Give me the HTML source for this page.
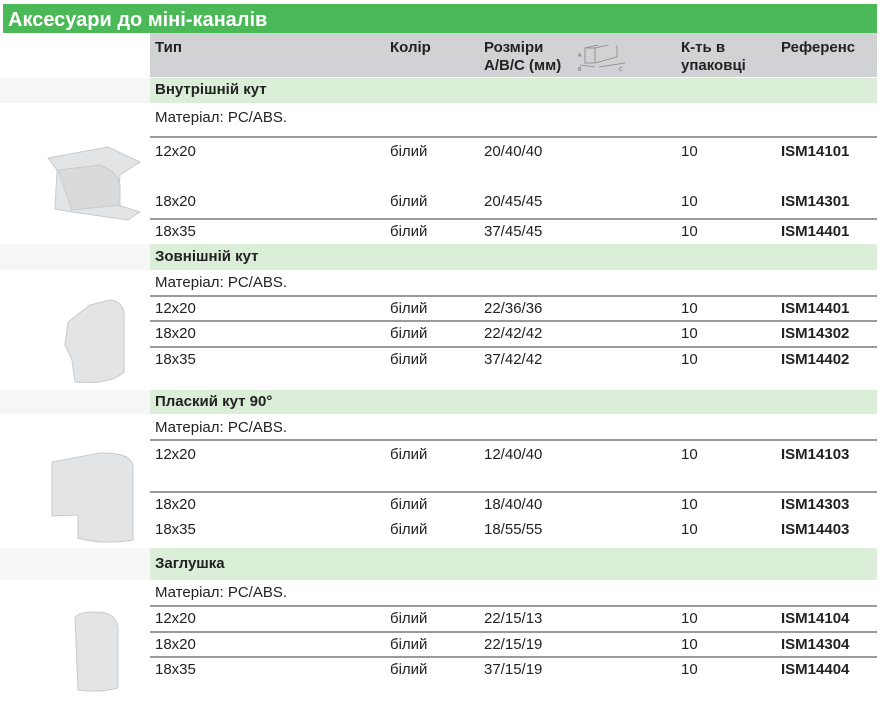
<!DOCTYPE html>
<html><head><meta charset="utf-8"><style>
*{margin:0;padding:0;box-sizing:border-box}
body{width:884px;height:712px;background:#fff;position:relative;overflow:hidden;font-family:"Liberation Sans",Arial,sans-serif;color:#222}
.a{position:absolute}
.t{position:absolute;font-size:15px;line-height:18px;white-space:nowrap}
.b{font-weight:bold}
.band{position:absolute;left:150px;width:727px;background:#dbeed8}
.lband{position:absolute;left:0;width:150px;background:#f6f6f6}
.line{position:absolute;left:150px;width:727px;height:2px;background:#9a9a9a}
</style></head><body>
<div class="a" style="left:3px;top:4px;width:874px;height:29px;background:#4bb957"></div>
<div class="t b" style="left:8px;top:8px;font-size:20px;line-height:24px;color:#fff">Аксесуари до міні-каналів</div>
<div class="a" style="left:150px;top:33px;width:727px;height:44px;background:#d1d2d4"></div>
<div class="t b" style="left:155px;top:39px">Тип</div>
<div class="t b" style="left:390px;top:39px">Колір</div>
<div class="t b" style="left:484px;top:39px;line-height:18px">Розміри<br>A/B/C (мм)</div>
<svg class="a" style="left:575px;top:45px" width="70" height="30"><g fill="none" stroke="#888" stroke-width="0.8"><rect x="10" y="3" width="10" height="15"/><path d="M20 3 L42 -2 L42 12 L20 18 M10 3 L32 -2 L42 -2 M5 20 L20 22 M24 22 L50 18"/></g><text x="3" y="12" font-size="5" fill="#666">A</text><text x="3" y="26" font-size="5" fill="#666">B</text><text x="44" y="26" font-size="5" fill="#666">C</text></svg>
<div class="t b" style="left:681px;top:39px">К-ть в<br>упаковці</div>
<div class="t b" style="left:781px;top:39px">Референс</div>

<!-- bands -->
<div class="band" style="top:78px;height:25px"></div><div class="lband" style="top:78px;height:25px"></div>
<div class="band" style="top:244px;height:26px"></div><div class="lband" style="top:244px;height:26px"></div>
<div class="band" style="top:390px;height:24px"></div><div class="lband" style="top:390px;height:24px"></div>
<div class="band" style="top:548px;height:32px"></div><div class="lband" style="top:548px;height:32px"></div>

<div class="t b" style="left:155px;top:81px">Внутрішній кут</div>
<div class="t" style="left:155px;top:109px">Матеріал: PC/ABS.</div>
<div class="line" style="top:136px"></div>
<div class="line" style="top:218px"></div>

<div class="t b" style="left:155px;top:248px">Зовнішній кут</div>
<div class="t" style="left:155px;top:274px">Матеріал: PC/ABS.</div>
<div class="line" style="top:295px"></div>
<div class="line" style="top:320px"></div>
<div class="line" style="top:346px"></div>

<div class="t b" style="left:155px;top:393px">Плаский кут 90°</div>
<div class="t" style="left:155px;top:419px">Матеріал: PC/ABS.</div>
<div class="line" style="top:439px"></div>
<div class="line" style="top:491px"></div>

<div class="t b" style="left:155px;top:555px">Заглушка</div>
<div class="t" style="left:155px;top:584px">Матеріал: PC/ABS.</div>
<div class="line" style="top:605px"></div>
<div class="line" style="top:631px"></div>
<div class="line" style="top:656px"></div>

<!-- rows -->
<div class="t" style="left:155px;top:143px">12x20</div><div class="t" style="left:390px;top:143px">білий</div><div class="t" style="left:484px;top:143px">20/40/40</div><div class="t" style="left:681px;top:143px">10</div><div class="t b" style="left:781px;top:143px">ISM14101</div>
<div class="t" style="left:155px;top:193px">18x20</div><div class="t" style="left:390px;top:193px">білий</div><div class="t" style="left:484px;top:193px">20/45/45</div><div class="t" style="left:681px;top:193px">10</div><div class="t b" style="left:781px;top:193px">ISM14301</div>
<div class="t" style="left:155px;top:223px">18x35</div><div class="t" style="left:390px;top:223px">білий</div><div class="t" style="left:484px;top:223px">37/45/45</div><div class="t" style="left:681px;top:223px">10</div><div class="t b" style="left:781px;top:223px">ISM14401</div>

<div class="t" style="left:155px;top:300px">12x20</div><div class="t" style="left:390px;top:300px">білий</div><div class="t" style="left:484px;top:300px">22/36/36</div><div class="t" style="left:681px;top:300px">10</div><div class="t b" style="left:781px;top:300px">ISM14401</div>
<div class="t" style="left:155px;top:325px">18x20</div><div class="t" style="left:390px;top:325px">білий</div><div class="t" style="left:484px;top:325px">22/42/42</div><div class="t" style="left:681px;top:325px">10</div><div class="t b" style="left:781px;top:325px">ISM14302</div>
<div class="t" style="left:155px;top:351px">18x35</div><div class="t" style="left:390px;top:351px">білий</div><div class="t" style="left:484px;top:351px">37/42/42</div><div class="t" style="left:681px;top:351px">10</div><div class="t b" style="left:781px;top:351px">ISM14402</div>

<div class="t" style="left:155px;top:446px">12x20</div><div class="t" style="left:390px;top:446px">білий</div><div class="t" style="left:484px;top:446px">12/40/40</div><div class="t" style="left:681px;top:446px">10</div><div class="t b" style="left:781px;top:446px">ISM14103</div>
<div class="t" style="left:155px;top:496px">18x20</div><div class="t" style="left:390px;top:496px">білий</div><div class="t" style="left:484px;top:496px">18/40/40</div><div class="t" style="left:681px;top:496px">10</div><div class="t b" style="left:781px;top:496px">ISM14303</div>
<div class="t" style="left:155px;top:521px">18x35</div><div class="t" style="left:390px;top:521px">білий</div><div class="t" style="left:484px;top:521px">18/55/55</div><div class="t" style="left:681px;top:521px">10</div><div class="t b" style="left:781px;top:521px">ISM14403</div>

<div class="t" style="left:155px;top:610px">12x20</div><div class="t" style="left:390px;top:610px">білий</div><div class="t" style="left:484px;top:610px">22/15/13</div><div class="t" style="left:681px;top:610px">10</div><div class="t b" style="left:781px;top:610px">ISM14104</div>
<div class="t" style="left:155px;top:636px">18x20</div><div class="t" style="left:390px;top:636px">білий</div><div class="t" style="left:484px;top:636px">22/15/19</div><div class="t" style="left:681px;top:636px">10</div><div class="t b" style="left:781px;top:636px">ISM14304</div>
<div class="t" style="left:155px;top:661px">18x35</div><div class="t" style="left:390px;top:661px">білий</div><div class="t" style="left:484px;top:661px">37/15/19</div><div class="t" style="left:681px;top:661px">10</div><div class="t b" style="left:781px;top:661px">ISM14404</div>

<!-- product pictures -->
<svg class="a" style="left:0;top:0" width="150" height="712">
<g fill="#e2e4e6" stroke="#c8cacc" stroke-width="1">
<path d="M48 158 L108 147 L140 162 L120 175 L118 205 L140 212 L128 220 L72 212 L55 209 L57 170 Z"/>
<path d="M58 170 L100 165 Q118 172 120 185 L120 205 L72 210 Z" fill="#d8dadc"/>
<path d="M68 322 L90 305 L110 300 Q126 302 124 320 L124 372 Q110 385 75 382 L72 360 L65 345 Z"/>
<path d="M52 462 L100 453 Q133 452 133 468 L133 540 Q100 545 78 538 L78 515 L52 516 Z"/>
<path d="M75 618 Q77 612 95 612 Q118 612 118 630 L118 688 Q100 693 78 690 Z"/>
</g>
</svg>
</body></html>
